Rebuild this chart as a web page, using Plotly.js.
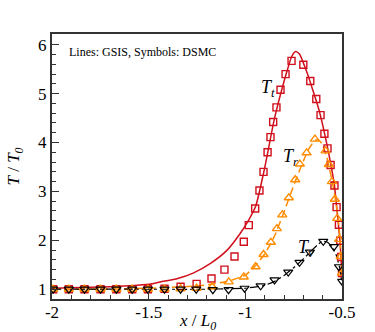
<!DOCTYPE html>
<html>
<head>
<meta charset="utf-8">
<script src="https://cdn.plot.ly/plotly-3.0.1.min.js"></script>
<style>html,body{margin:0;padding:0;background:#fff;} #chart{width:375px;height:332px;}</style>
</head>
<body>
<div id="chart"></div>
<script>
// GSIS lines
var gsisX_Tt = [-2, -1.9, -1.8, -1.7, -1.6, -1.5, -1.44, -1.35, -1.27, -1.18, -1.094, -1.025, -0.982, -0.947, -0.9, -0.85, -0.8, -0.78, -0.76, -0.74, -0.72, -0.7, -0.68, -0.65, -0.62, -0.6, -0.58, -0.56, -0.54, -0.53, -0.52, -0.51, -0.505, -0.5];
var gsisY_Tt = [1.02, 1.03, 1.04, 1.05, 1.07, 1.10, 1.15, 1.22, 1.33, 1.53, 1.80, 2.15, 2.42, 2.69, 3.48, 4.48, 5.25, 5.52, 5.76, 5.86, 5.81, 5.63, 5.42, 5.06, 4.68, 4.36, 4.0, 3.6, 3.15, 2.78, 2.38, 1.97, 1.62, 1.25];

var gsisX_Tr = [-2, -1.8, -1.6, -1.44, -1.27, -1.18, -1.094, -1.0, -0.95, -0.9, -0.85, -0.8, -0.75, -0.7, -0.67, -0.64, -0.62, -0.6, -0.58, -0.56, -0.54, -0.52, -0.51, -0.5];
var gsisY_Tr = [1.0, 1.0, 1.01, 1.03, 1.06, 1.1, 1.16, 1.29, 1.47, 1.72, 2.08, 2.58, 3.12, 3.62, 3.88, 4.04, 4.05, 3.95, 3.72, 3.38, 2.98, 2.45, 2.02, 1.3];

var gsisX_Tv = [-2, -1.6, -1.2, -1.1, -1.0, -0.9, -0.85, -0.8, -0.75, -0.7, -0.65, -0.62, -0.6, -0.58, -0.55, -0.53, -0.52, -0.51, -0.5];
var gsisY_Tv = [1.0, 1.0, 1.0, 1.01, 1.02, 1.08, 1.16, 1.28, 1.44, 1.62, 1.82, 1.93, 1.98, 1.97, 1.86, 1.7, 1.56, 1.4, 1.1];

// DSMC symbols
var dsmcX_Tt = [-1.994, -1.913, -1.832, -1.749, -1.667, -1.585, -1.504, -1.418, -1.335, -1.252, -1.175, -1.108, -1.056, -1.008, -0.982, -0.949, -0.927, -0.906, -0.885, -0.870, -0.856, -0.839, -0.818, -0.792, -0.761, -0.700, -0.664, -0.633, -0.611, -0.591, -0.575, -0.559, -0.539, -0.528, -0.516, -0.509, -0.504, -0.500];
var dsmcY_Tt = [1.0, 1.0, 1.0, 1.0, 1.0, 1.0, 1.0, 1.01, 1.05, 1.11, 1.22, 1.40, 1.67, 1.97, 2.31, 2.65, 3.02, 3.40, 3.80, 4.11, 4.42, 4.72, 5.08, 5.40, 5.67, 5.59, 5.26, 4.89, 4.56, 4.18, 3.88, 3.54, 3.12, 2.68, 2.32, 1.99, 1.66, 1.33];

var dsmcX_Tr = [-1.994, -1.913, -1.832, -1.749, -1.667, -1.585, -1.504, -1.418, -1.335, -1.252, -1.171, -1.086, -1.008, -0.947, -0.906, -0.868, -0.837, -0.809, -0.775, -0.742, -0.718, -0.683, -0.640, -0.585, -0.568, -0.552, -0.537, -0.525, -0.515, -0.507, -0.500];
var dsmcY_Tr = [1.0, 1.0, 1.0, 1.0, 1.0, 1.0, 1.0, 1.0, 1.01, 1.02, 1.05, 1.15, 1.25, 1.46, 1.71, 1.96, 2.24, 2.52, 2.87, 3.24, 3.56, 3.79, 4.07, 3.83, 3.55, 3.20, 2.84, 2.45, 2.02, 1.67, 1.33];

var dsmcX_Tv = [-1.994, -1.913, -1.832, -1.749, -1.667, -1.585, -1.504, -1.418, -1.335, -1.254, -1.168, -1.087, -1.004, -0.921, -0.849, -0.778, -0.720, -0.666, -0.597, -0.542, -0.516, -0.499];
var dsmcY_Tv = [1.0, 1.0, 1.0, 1.0, 1.0, 1.0, 1.0, 1.0, 1.0, 1.0, 0.99, 0.99, 1.02, 1.07, 1.19, 1.35, 1.55, 1.76, 1.98, 1.87, 1.46, 1.16];

var xTickVals = [-2, -1.5, -1, -0.5];
var xTickText = ["-2", "-1.5", "-1", "-0.5"];
var yTickVals = [1, 2, 3, 4, 5, 6];
var yTickText = ["1", "2", "3", "4", "5", "6"];

var RED = '#d0101c', ORANGE = '#ff8c00', BLACK = '#000000';
var serif = '"Liberation Serif", "Times New Roman", serif';

var traces = [
  {x: gsisX_Tt, y: gsisY_Tt, mode: 'lines', line: {color: RED, width: 1.5, shape: 'spline', smoothing: 0.6}, name: 'GSIS Tt'},
  {x: gsisX_Tr, y: gsisY_Tr, mode: 'lines', line: {color: ORANGE, width: 1.5, dash: '8px,4px', shape: 'spline', smoothing: 0.6}, name: 'GSIS Tr'},
  {x: gsisX_Tv, y: gsisY_Tv, mode: 'lines', line: {color: BLACK, width: 1.2, dash: 'dashdot', shape: 'spline', smoothing: 0.6}, name: 'GSIS Tv'},
  {x: dsmcX_Tt, y: dsmcY_Tt, mode: 'markers', marker: {symbol: 'square-open', size: 7, color: RED, line: {width: 1.4}}, name: 'DSMC Tt'},
  {x: dsmcX_Tr, y: dsmcY_Tr, mode: 'markers', marker: {symbol: 'triangle-up-open', size: 8, color: ORANGE, line: {width: 1.4}}, name: 'DSMC Tr'},
  {x: dsmcX_Tv, y: dsmcY_Tv, mode: 'markers', marker: {symbol: 'triangle-down-open', size: 8, color: BLACK, line: {width: 1.2}}, name: 'DSMC Tv'}
];

var layout = {
  width: 375, height: 332,
  margin: {l: 52, r: 33, t: 34, b: 33, pad: 0},
  paper_bgcolor: '#fff', plot_bgcolor: '#fff',
  showlegend: false,
  font: {family: serif, size: 17, color: '#000'},
  xaxis: {
    range: [-2, -0.5], tickmode: 'array', tickvals: xTickVals, ticktext: xTickText,
    ticks: 'inside', ticklen: 8, tickwidth: 1.2, tickcolor: '#333',
    ticklabelstandoff: -3,
    minor: {dtick: 0.1, tick0: -2, ticks: 'inside', ticklen: 4, tickwidth: 1, tickcolor: '#333', showgrid: false},
    showline: true, mirror: true, linecolor: '#333', linewidth: 2,
    showgrid: false, zeroline: false,
    tickfont: {family: serif, size: 17, color: '#000'}
  },
  yaxis: {
    range: [0.8, 6.22], tickmode: 'array', tickvals: yTickVals, ticktext: yTickText,
    ticks: 'inside', ticklen: 7, tickwidth: 1.2, tickcolor: '#333',
    minor: {dtick: 0.2, tick0: 0, ticks: 'inside', ticklen: 4, tickwidth: 1, tickcolor: '#333', showgrid: false},
    showline: true, mirror: true, linecolor: '#333', linewidth: 2,
    showgrid: false, zeroline: false,
    tickfont: {family: serif, size: 17, color: '#000'},
    title: {text: '<i>T</i> / <i>T</i><sub><i>0</i></sub>', font: {family: serif, size: 17, color: '#000'}, standoff: 14}
  },
  annotations: [
    {xref: 'paper', yref: 'paper', x: 0.5, y: -0.088, xanchor: 'center', yanchor: 'middle', showarrow: false,
     text: '<i>x</i> / <i>L</i><sub><i>0</i></sub>', font: {family: serif, size: 17, color: '#000'}},
    {xref: 'paper', yref: 'paper', x: 0.053, y: 0.933, xanchor: 'left', yanchor: 'middle', showarrow: false,
     text: 'Lines: GSIS, Symbols: DSMC', font: {family: serif, size: 12, color: '#000'}},
    {xref: 'x', yref: 'y', x: -0.885, y: 5.1, showarrow: false,
     text: '<i>T</i><sub><i>t</i></sub>', font: {family: serif, size: 18, color: '#000'}},
    {xref: 'x', yref: 'y', x: -0.765, y: 3.7, showarrow: false,
     text: '<i>T</i><sub><i>r</i></sub>', font: {family: serif, size: 18, color: '#000'}},
    {xref: 'x', yref: 'y', x: -0.688, y: 1.83, showarrow: false,
     text: '<i>T</i><sub><i>v</i></sub>', font: {family: serif, size: 18, color: '#000'}}
  ]
};

Plotly.newPlot('chart', traces, layout, {staticPlot: true, displayModeBar: false});
</script>
</body>
</html>
